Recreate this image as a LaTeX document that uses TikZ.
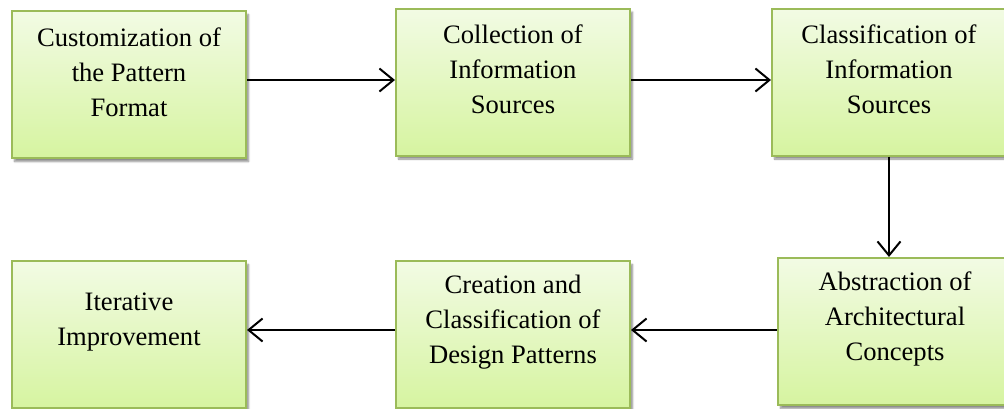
\documentclass[tikz,border=0pt]{standalone}
\usepackage{fontspec}
\setmainfont{Liberation Serif}
\usetikzlibrary{arrows.meta,shadows.blur}

\definecolor{boxborder}{HTML}{9BBB59}
\definecolor{boxtop}{HTML}{F2FBE4}
\definecolor{boxbottom}{HTML}{D6F4A0}

\tikzset{
  stagebox/.style={
    draw=boxborder, line width=2pt,
    top color=boxtop, bottom color=boxbottom,
    minimum width=234pt, minimum height=147pt,
    inner sep=0pt, anchor=north west,
    blur shadow={shadow xshift=2.5pt, shadow yshift=-3.5pt,
                 shadow blur steps=6, shadow opacity=45}
  },
  stagetext/.style={
    inner sep=0pt, align=center,
    font=\fontsize{26.6pt}{35pt}\selectfont
  },
  flow/.style={
    line width=2pt,
    -{Straight Barb[length=14pt,width=23pt,line width=2pt]}
  }
}

\begin{document}
\begin{tikzpicture}[x=1pt,y=-1pt]
  \useasboundingbox (0,0) rectangle (1004,408);

  % upper row of stages
  \node[stagebox] (B1) at (11,10)  {};
  \node[stagebox] (B2) at (395,7.5) {};
  \node[stagebox] (B3) at (771,7.5) {};
  % lower row of stages
  \node[stagebox] (B4) at (11,260)  {};
  \node[stagebox] (B5) at (395,260) {};
  \node[stagebox] (B6) at (777,257) {};

  % stage captions
  \node[stagetext] (T1) at ([yshift=-62pt]B1.north) {Customization of\\the Pattern\\Format};
  \node[stagetext] (T2) at ([yshift=-62pt]B2.north) {Collection of\\Information\\Sources};
  \node[stagetext] (T3) at ([yshift=-62pt]B3.north) {Classification of\\Information\\Sources};
  \node[stagetext] (T4) at ([yshift=-62pt]B4.north) {Iterative\\Improvement};
  \node[stagetext] (T5) at ([yshift=-62pt]B5.north) {Creation and\\Classification of\\Design Patterns};
  \node[stagetext] (T6) at ([yshift=-62pt]B6.north) {Abstraction of\\Architectural\\Concepts};

  % guide coordinates for the connector lines
  \coordinate (rowA) at (0,80);
  \coordinate (rowB) at (0,330);
  \coordinate (colC) at (889,0);

  % connectors
  \draw[flow] (B1.east |- rowA) -- (B2.west |- rowA);
  \draw[flow] (B2.east |- rowA) -- (B3.west |- rowA);
  \draw[flow] (B3.south -| colC) -- (B6.north -| colC);
  \draw[flow] (B6.west |- rowB) -- (B5.east |- rowB);
  \draw[flow] (B5.west |- rowB) -- (B4.east |- rowB);
\end{tikzpicture}
\end{document}
